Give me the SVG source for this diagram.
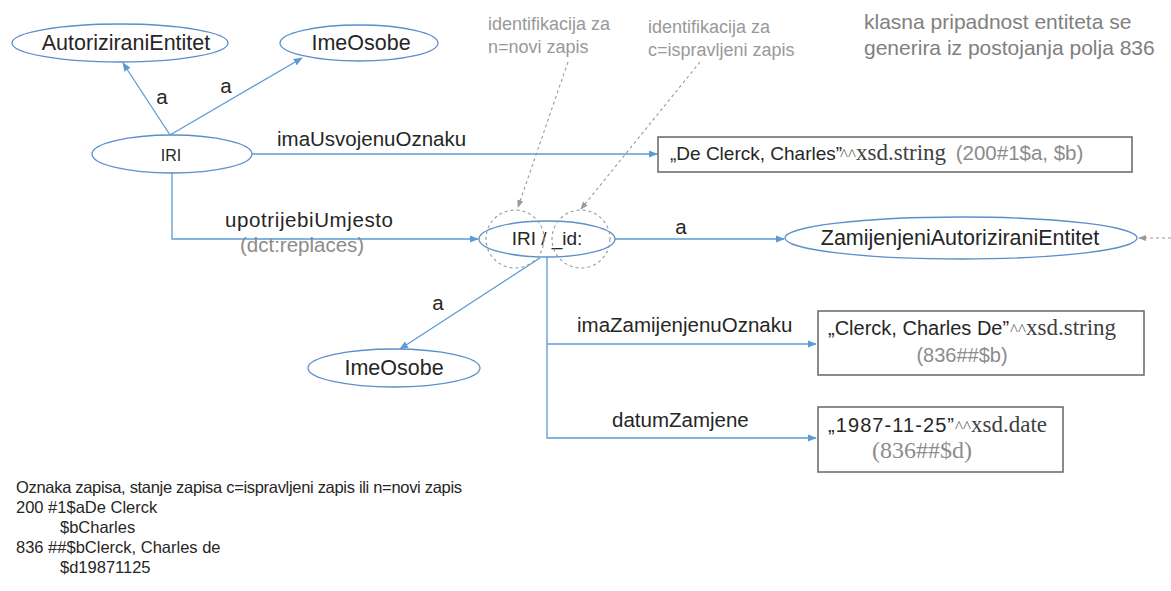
<svg xmlns="http://www.w3.org/2000/svg" width="1171" height="591" viewBox="0 0 1171 591">
<defs>
<style>
text{font-family:"Liberation Sans",Arial,sans-serif;fill:#262626}
.node{fill:#fff;stroke:#5b8fc9;stroke-width:1.3}
.box{fill:#fff;stroke:#666;stroke-width:1.5}
.nl{font-size:21.5px;text-anchor:middle}
.el{font-size:20.5px}
.gl{fill:#8c8c8c}
.ann{font-size:18px;fill:#999}
.ann2{font-size:21px;fill:#808080}
.serif{font-family:"Liberation Serif","Times New Roman",serif}
.car{font-family:"Liberation Serif","Times New Roman",serif;font-size:17px;fill:#666}
.xsd{font-family:"Liberation Serif","Times New Roman",serif;font-size:23px;fill:#404040}
.conn{fill:none;stroke:#5b9bd5;stroke-width:1.3}
.dash{fill:none;stroke:#999;stroke-width:1.1;stroke-dasharray:3 3}
.bt{font-size:16.5px}
</style>
<marker id="ab" viewBox="0 0 10 10" refX="9" refY="5" markerWidth="7" markerHeight="7" orient="auto"><path d="M0,1 L10,5 L0,9 z" fill="#5b9bd5"/></marker>
<marker id="ag" viewBox="0 0 10 10" refX="9" refY="5" markerWidth="7" markerHeight="7" orient="auto"><path d="M0,1 L10,5 L0,9 z" fill="#999"/></marker>
</defs>
<rect width="1171" height="591" fill="#fff"/>

<g id="connectors">
<line class="conn" x1="170" y1="135" x2="123" y2="63" marker-end="url(#ab)"/>
<line class="conn" x1="170" y1="135" x2="302" y2="58" marker-end="url(#ab)"/>
<line class="conn" x1="252" y1="154" x2="657" y2="154" marker-end="url(#ab)"/>
<polyline class="conn" points="172,173 172,239 478,239" marker-end="url(#ab)"/>
<line class="conn" x1="615" y1="239" x2="784" y2="239" marker-end="url(#ab)"/>
<line class="conn" x1="540" y1="258" x2="400" y2="349" marker-end="url(#ab)"/>
<polyline class="conn" points="547,257 547,438 816,438" marker-end="url(#ab)"/>
<line class="conn" x1="547" y1="344" x2="816" y2="344" marker-end="url(#ab)"/>
<line class="dash" x1="568" y1="62" x2="518" y2="207" marker-end="url(#ag)"/>
<line class="dash" x1="700" y1="62" x2="581" y2="209" marker-end="url(#ag)"/>
<line class="dash" x1="1171" y1="238" x2="1139" y2="238" marker-end="url(#ag)"/>
<text x="162" y="104" class="el" text-anchor="middle">a</text>
<text x="226" y="93" class="el" text-anchor="middle">a</text>
<text x="277" y="146" class="el">imaUsvojenuOznaku</text>
<text x="225" y="227" class="el" textLength="168">upotrijebiUmjesto</text>
<text x="240" y="252" class="el gl">(dct:replaces)</text>
<text x="681" y="234" class="el" text-anchor="middle">a</text>
<text x="438" y="310" class="el" text-anchor="middle">a</text>
<text x="577" y="332" class="el">imaZamijenjenuOznaku</text>
<text x="612" y="427" class="el">datumZamjene</text>
</g>

<g id="n-autoriziranientitet">
<ellipse class="node" cx="120" cy="43" rx="108" ry="19"/>
<text class="nl" x="126" y="50">AutoriziraniEntitet</text>
</g>
<g id="n-imeosobe1">
<ellipse class="node" cx="359" cy="43" rx="79" ry="18"/>
<text class="nl" x="361" y="50">ImeOsobe</text>
</g>
<g id="n-iri">
<ellipse class="node" cx="172" cy="154" rx="80" ry="19"/>
<text x="171" y="161" font-size="16" text-anchor="middle">IRI</text>
</g>
<g id="n-iri-id">
<ellipse class="node" cx="547" cy="239" rx="68" ry="18"/>
<text x="547" y="245" font-size="19" text-anchor="middle">IRI / _id:</text>
<circle class="dash" cx="515" cy="239" r="29"/>
<circle class="dash" cx="581" cy="239" r="29"/>
</g>
<g id="n-zamijenjeni">
<ellipse class="node" cx="961" cy="238" rx="176" ry="21"/>
<text class="nl" x="960" y="245">ZamijenjeniAutoriziraniEntitet</text>
</g>
<g id="n-imeosobe2">
<ellipse class="node" cx="394" cy="368" rx="86" ry="19"/>
<text class="nl" x="394" y="375" font-size="20">ImeOsobe</text>
</g>
<g id="n-box1">
<rect class="box" x="658" y="137" width="474" height="35"/>
<text y="160" font-size="19"><tspan x="670">„De Clerck, Charles”</tspan><tspan class="car" x="840">^^</tspan><tspan class="xsd" x="856">xsd.string</tspan><tspan class="gl" x="950" font-size="20.5"> (200#1$a, $b)</tspan></text>
</g>
<g id="n-box2">
<rect class="box" x="818" y="311" width="326" height="64"/>
<text y="335" font-size="20"><tspan x="828">„Clerck, Charles De”</tspan><tspan class="car" x="1010">^^</tspan><tspan class="xsd" x="1026">xsd.string</tspan></text>
<text x="962" y="362" font-size="20" class="gl" text-anchor="middle">(836##$b)</text>
</g>
<g id="n-box3">
<rect class="box" x="818" y="407" width="245" height="65"/>
<text y="432" font-size="20"><tspan x="828" textLength="126">„1987-11-25”</tspan><tspan class="car" x="955">^^</tspan><tspan class="xsd" x="971" font-size="22.5">xsd.date</tspan></text>
<text x="922" y="458" font-size="24" class="serif gl" text-anchor="middle">(836##$d)</text>
</g>

<g id="annotations" xml:space="preserve">
<text class="ann" x="488" y="30">identifikacija za</text>
<text class="ann" x="488" y="53">n=novi  zapis</text>
<text class="ann" x="648" y="33">identifikacija za</text>
<text class="ann" x="648" y="56">c=ispravljeni  zapis</text>
<text class="ann2" x="864" y="29">klasna pripadnost entiteta se</text>
<text class="ann2" x="864" y="55">generira iz postojanja polja 836</text>
</g>

<g id="record-text">
<text class="bt" x="16" y="493" textLength="446">Oznaka zapisa, stanje zapisa c=ispravljeni zapis ili n=novi zapis</text>
<text class="bt" x="16" y="513">200 #1$aDe Clerck</text>
<text class="bt" x="60" y="533">$bCharles</text>
<text class="bt" x="16" y="553">836 ##$bClerck, Charles de</text>
<text class="bt" x="60" y="573">$d19871125</text>
</g>
</svg>
